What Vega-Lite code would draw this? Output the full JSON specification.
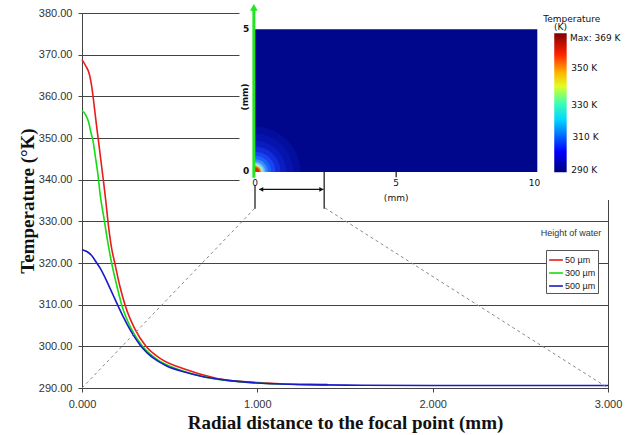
{
  "$schema": "https://vega.github.io/schema/vega-lite/v6.json",
  "width": 526,
  "height": 375,
  "autosize": {"type": "none"},
  "padding": {"left": 82, "top": 13, "right": 26, "bottom": 47},
  "background": "white",
  "config": {
    "view": {"stroke": "#444", "strokeWidth": 1}
  },
  "datasets": {
    "curves": [
      {"series": "50 µm", "r": 0, "T": 368.8},
      {"series": "50 µm", "r": 0.02, "T": 367.4},
      {"series": "50 µm", "r": 0.042, "T": 365.3},
      {"series": "50 µm", "r": 0.055, "T": 362.5},
      {"series": "50 µm", "r": 0.066, "T": 359.0},
      {"series": "50 µm", "r": 0.08, "T": 354.0},
      {"series": "50 µm", "r": 0.094, "T": 349.3},
      {"series": "50 µm", "r": 0.108, "T": 344.5},
      {"series": "50 µm", "r": 0.122, "T": 339.8},
      {"series": "50 µm", "r": 0.136, "T": 334.8},
      {"series": "50 µm", "r": 0.148, "T": 330.0},
      {"series": "50 µm", "r": 0.167, "T": 324.0},
      {"series": "50 µm", "r": 0.188, "T": 319.8},
      {"series": "50 µm", "r": 0.215, "T": 314.6},
      {"series": "50 µm", "r": 0.245, "T": 310.0},
      {"series": "50 µm", "r": 0.3, "T": 304.3},
      {"series": "50 µm", "r": 0.365, "T": 300.0},
      {"series": "50 µm", "r": 0.45, "T": 297.0},
      {"series": "50 µm", "r": 0.58, "T": 294.6},
      {"series": "50 µm", "r": 0.77, "T": 292.3},
      {"series": "50 µm", "r": 1.0, "T": 291.3},
      {"series": "50 µm", "r": 1.2, "T": 290.9},
      {"series": "50 µm", "r": 1.4, "T": 290.8},
      {"series": "300 µm", "r": 0, "T": 356.6},
      {"series": "300 µm", "r": 0.02, "T": 355.6},
      {"series": "300 µm", "r": 0.038, "T": 353.8},
      {"series": "300 µm", "r": 0.05, "T": 351.5},
      {"series": "300 µm", "r": 0.064, "T": 349.0},
      {"series": "300 µm", "r": 0.078, "T": 345.0},
      {"series": "300 µm", "r": 0.09, "T": 341.5},
      {"series": "300 µm", "r": 0.105, "T": 336.0},
      {"series": "300 µm", "r": 0.127, "T": 330.3},
      {"series": "300 µm", "r": 0.147, "T": 325.0},
      {"series": "300 µm", "r": 0.169, "T": 320.0},
      {"series": "300 µm", "r": 0.196, "T": 315.0},
      {"series": "300 µm", "r": 0.226, "T": 310.0},
      {"series": "300 µm", "r": 0.28, "T": 304.3},
      {"series": "300 µm", "r": 0.345, "T": 300.0},
      {"series": "300 µm", "r": 0.43, "T": 296.8},
      {"series": "300 µm", "r": 0.56, "T": 294.3},
      {"series": "300 µm", "r": 0.75, "T": 292.2},
      {"series": "300 µm", "r": 1.0, "T": 291.2},
      {"series": "300 µm", "r": 1.2, "T": 290.9},
      {"series": "300 µm", "r": 1.4, "T": 290.8},
      {"series": "500 µm", "r": 0, "T": 323.2},
      {"series": "500 µm", "r": 0.03, "T": 322.7},
      {"series": "500 µm", "r": 0.055, "T": 321.8},
      {"series": "500 µm", "r": 0.084, "T": 320.0},
      {"series": "500 µm", "r": 0.11, "T": 318.3},
      {"series": "500 µm", "r": 0.135, "T": 316.2},
      {"series": "500 µm", "r": 0.16, "T": 313.9},
      {"series": "500 µm", "r": 0.185, "T": 311.6},
      {"series": "500 µm", "r": 0.207, "T": 309.6},
      {"series": "500 µm", "r": 0.24, "T": 306.7},
      {"series": "500 µm", "r": 0.27, "T": 304.3},
      {"series": "500 µm", "r": 0.3, "T": 302.2},
      {"series": "500 µm", "r": 0.33, "T": 300.4},
      {"series": "500 µm", "r": 0.37, "T": 298.5},
      {"series": "500 µm", "r": 0.42, "T": 296.8},
      {"series": "500 µm", "r": 0.483, "T": 295.3},
      {"series": "500 µm", "r": 0.58, "T": 293.9},
      {"series": "500 µm", "r": 0.673, "T": 292.9},
      {"series": "500 µm", "r": 0.8, "T": 292.0},
      {"series": "500 µm", "r": 1.0, "T": 291.2},
      {"series": "500 µm", "r": 1.3, "T": 290.8},
      {"series": "500 µm", "r": 1.6, "T": 290.65},
      {"series": "500 µm", "r": 2.0, "T": 290.6},
      {"series": "500 µm", "r": 3.0, "T": 290.6}
    ],
    "zoomLines": [
      {"r": 0, "T": 290, "r2": 0.987, "T2": 333.2},
      {"r": 1.386, "T": 333.2, "r2": 3.0, "T2": 290}
    ],
    "isotherms": [
      {"x": 0, "y": 0, "rad": 1.6, "T": 291.5},
      {"x": 0, "y": 0, "rad": 1.35, "T": 292.8},
      {"x": 0, "y": 0, "rad": 1.1, "T": 294.5},
      {"x": 0, "y": 0, "rad": 0.9, "T": 297.0},
      {"x": 0, "y": 0, "rad": 0.72, "T": 300.5},
      {"x": 0, "y": 0, "rad": 0.57, "T": 305.0},
      {"x": 0, "y": 0, "rad": 0.45, "T": 311.0},
      {"x": 0, "y": 0, "rad": 0.36, "T": 318.0},
      {"x": 0, "y": 0, "rad": 0.3, "T": 326.0},
      {"x": 0, "y": 0, "rad": 0.25, "T": 337.0},
      {"x": 0, "y": 0, "rad": 0.21, "T": 349.0},
      {"x": 0, "y": 0, "rad": 0.16, "T": 361.0}
    ]
  },
  "layer": [
    {
      "layer": [
        {
          "data": {"name": "curves"},
          "mark": {"type": "line", "strokeWidth": 1.6, "interpolate": "monotone"},
          "encoding": {
            "x": {
              "field": "r", "type": "quantitative",
              "scale": {"domain": [0, 3], "nice": false, "zero": false},
              "axis": {
                "title": "Radial distance to the focal point (mm)",
                "values": [0, 1, 2, 3], "format": ".3f", "grid": false,
                "labelFont": "Liberation Sans", "labelFontSize": 11, "labelColor": "#333",
                "labelFlush": false, "tickSize": 4, "labelPadding": 6,
                "domainColor": "#444", "tickColor": "#444",
                "titleFont": "Liberation Serif", "titleFontSize": 19, "titleFontWeight": "bold",
                "titleColor": "#111", "titleX": 263, "titleY": 40, "titleBaseline": "alphabetic"
              }
            },
            "y": {
              "field": "T", "type": "quantitative",
              "scale": {"domain": [290, 380], "nice": false, "zero": false},
              "axis": {
                "title": "Temperature (°K)",
                "values": [290, 300, 310, 320, 330, 340, 350, 360, 370, 380], "format": ".2f",
                "grid": true, "gridColor": "#444", "gridOpacity": 1,
                "labelFont": "Liberation Sans", "labelFontSize": 11, "labelColor": "#333",
                "labelFlush": false, "tickSize": 4, "labelPadding": 6,
                "domainColor": "#444", "tickColor": "#444",
                "titleFont": "Liberation Serif", "titleFontSize": 19, "titleFontWeight": "bold",
                "titleColor": "#111", "titleX": -55, "titleY": 187.5, "titleBaseline": "middle"
              }
            },
            "color": {
              "field": "series", "type": "nominal",
              "scale": {"domain": ["50 µm", "300 µm", "500 µm"], "range": ["#e81c1c", "#14dc14", "#1a1ac8"]},
              "legend": {
                "title": null, "orient": "none", "legendX": 464, "legendY": 237,
                "symbolType": "stroke", "symbolSize": 190, "symbolStrokeWidth": 1.6,
                "labelFont": "Liberation Sans", "labelFontSize": 9, "labelColor": "#222",
                "strokeColor": "#555", "fillColor": "white", "padding": 2, "rowPadding": -1, "labelOffset": 1
              }
            }
          }
        },
        {
          "data": {"name": "zoomLines"},
          "mark": {"type": "rule", "color": "#888", "strokeWidth": 1, "strokeDash": [3, 3]},
          "encoding": {
            "x": {"field": "r", "type": "quantitative"},
            "y": {"field": "T", "type": "quantitative"},
            "x2": {"field": "r2"},
            "y2": {"field": "T2"}
          }
        },
        {
          "data": {"values": [{"t": "Height of water", "r": 2.789, "T": 327.2}]},
          "mark": {"type": "text", "font": "Liberation Sans", "fontSize": 9, "color": "#333"},
          "encoding": {
            "x": {"field": "r", "type": "quantitative"},
            "y": {"field": "T", "type": "quantitative"},
            "text": {"field": "t"}
          }
        }
      ]
    },
    {
      "encoding": {
        "x": {"field": "x", "type": "quantitative", "scale": {"domain": [-6.128, 12.504], "nice": false, "zero": false}, "axis": null},
        "y": {"field": "y", "type": "quantitative", "scale": {"domain": [-7.568, 5.571], "nice": false, "zero": false}, "axis": null}
      },
      "layer": [
        {
          "data": {"values": [{"x": -0.55, "x2": 13.5, "y": 6.1, "y2": -0.98}]},
          "mark": {"type": "rect", "fill": "white", "stroke": null},
          "encoding": {"x2": {"field": "x2"}, "y2": {"field": "y2"}}
        },
        {
          "data": {"values": [{"x": 0, "x2": 10, "y": 0, "y2": 5}]},
          "mark": {"type": "rect", "fill": "#00078c"},
          "encoding": {"x2": {"field": "x2"}, "y2": {"field": "y2"}}
        },
        {
          "data": {"name": "isotherms"},
          "mark": {"type": "arc", "theta": 0, "theta2": 1.5708, "stroke": null},
          "encoding": {
            "radius": {"field": "rad", "type": "quantitative", "stack": null, "scale": {"type": "linear", "domain": [0, 1], "range": [0, 28.3], "zero": true}, "legend": null},
            "color": {
              "field": "T", "type": "quantitative",
              "scale": {
                "domain": [290, 295, 300, 310, 320, 330, 340, 350, 369],
                "range": ["#00078c", "#0a1ec8", "#1a40f0", "#3a86ff", "#7cc8ff", "#b8f0ff", "#ffd040", "#ff6000", "#b00000"]
              },
              "legend": null
            }
          }
        },
        {
          "data": {"values": [{"x": 10.6, "x2": 11.04, "y": -0.01, "y2": 4.86}]},
          "mark": {
            "type": "rect",
            "fill": {
              "gradient": "linear", "x1": 0, "y1": 1, "x2": 0, "y2": 0,
              "stops": [
                {"offset": 0, "color": "#00007a"},
                {"offset": 0.15, "color": "#0000ff"},
                {"offset": 0.38, "color": "#00d8ff"},
                {"offset": 0.5, "color": "#40ffb0"},
                {"offset": 0.62, "color": "#e0ff20"},
                {"offset": 0.72, "color": "#ffb000"},
                {"offset": 0.85, "color": "#ff2000"},
                {"offset": 1, "color": "#800000"}
              ]
            }
          },
          "encoding": {"x2": {"field": "x2"}, "y2": {"field": "y2"}}
        },
        {
          "data": {"values": [{"x": -0.04, "y": -0.2, "y2": 5.7}]},
          "mark": {"type": "rule", "color": "#22e622", "strokeWidth": 3},
          "encoding": {"y2": {"field": "y2"}}
        },
        {
          "data": {"values": [{"x": -0.04, "y": 5.77}]},
          "mark": {"type": "point", "shape": "triangle-up", "filled": true, "size": 60, "color": "#22e622", "opacity": 1}
        },
        {
          "data": {"values": [
            {"x": 0, "y": -0.46, "y2": -1.29},
            {"x": 2.45, "y": 0, "y2": -1.29},
            {"x": 5, "y": 0, "y2": -0.18}
          ]},
          "mark": {"type": "rule", "color": "#111", "strokeWidth": 1.2},
          "encoding": {"y2": {"field": "y2"}}
        },
        {
          "data": {"values": [{"x": 0.15, "x2": 2.42, "y": -0.61}]},
          "mark": {"type": "rule", "color": "#111", "strokeWidth": 1.2},
          "encoding": {"x2": {"field": "x2"}}
        },
        {
          "data": {"values": [{"x": 0.22, "y": -0.61}]},
          "mark": {"type": "point", "shape": "triangle-left", "filled": true, "size": 22, "color": "#111", "opacity": 1}
        },
        {
          "data": {"values": [{"x": 2.35, "y": -0.61}]},
          "mark": {"type": "point", "shape": "triangle-right", "filled": true, "size": 22, "color": "#111", "opacity": 1}
        },
        {
          "data": {"values": [{"t": "5", "x": -0.2, "y": 5}, {"t": "0", "x": -0.2, "y": 0.02}]},
          "mark": {"type": "text", "align": "right", "font": "DejaVu Sans", "fontSize": 9, "fontWeight": "bold", "color": "#111"},
          "encoding": {"text": {"field": "t"}}
        },
        {
          "data": {"values": [{"t": "0", "x": 0, "y": -0.37}, {"t": "5", "x": 5, "y": -0.37}, {"t": "10", "x": 9.9, "y": -0.37}, {"t": "(mm)", "x": 5, "y": -0.9}]},
          "mark": {"type": "text", "font": "DejaVu Sans", "fontSize": 9, "color": "#111"},
          "encoding": {"text": {"field": "t"}}
        },
        {
          "data": {"values": [{"t": "(mm)", "x": -0.35, "y": 2.63}]},
          "mark": {"type": "text", "angle": 270, "font": "DejaVu Sans", "fontSize": 9, "fontWeight": "bold", "color": "#111"},
          "encoding": {"text": {"field": "t"}}
        },
        {
          "data": {"values": [
            {"t": "Max: 369 K", "x": 11.16, "y": 4.71},
            {"t": "350 K", "x": 11.2, "y": 3.63},
            {"t": "330 K", "x": 11.2, "y": 2.35},
            {"t": "310 K", "x": 11.25, "y": 1.21},
            {"t": "290 K", "x": 11.2, "y": 0.07}
          ]},
          "mark": {"type": "text", "align": "left", "font": "DejaVu Sans", "fontSize": 9, "color": "#111"},
          "encoding": {"text": {"field": "t"}}
        },
        {
          "data": {"values": [{"t": "Temperature", "x": 11.22, "y": 5.35}, {"t": "(K)", "x": 10.82, "y": 5.07}]},
          "mark": {"type": "text", "font": "DejaVu Sans", "fontSize": 9, "color": "#111"},
          "encoding": {"text": {"field": "t"}}
        }
      ]
    }
  ],
  "resolve": {"scale": {"x": "independent", "y": "independent", "color": "independent"}}
}
